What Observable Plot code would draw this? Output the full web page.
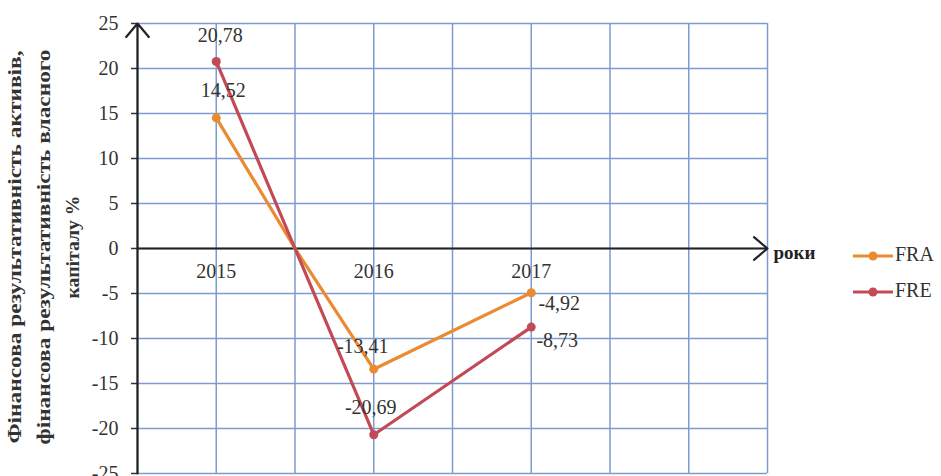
<!DOCTYPE html>
<html>
<head>
<meta charset="utf-8">
<script src="https://cdn.jsdelivr.net/npm/d3@7"></script>
<script src="https://cdn.jsdelivr.net/npm/@observablehq/plot@0.6"></script>
<style>
  html, body { margin: 0; padding: 0; background: #fff; }
  #chart { width: 941px; height: 476px; }
</style>
</head>
<body>
<div id="chart"></div>
<script>
// ---- data ----
const years = [2015, 2016, 2017];
const fraValues = [14.52, -13.41, -4.92];
const freValues = [20.78, -20.69, -8.73];
// both lines cross zero midway between 2015 and 2016
const crossingX = 2015.5;
const crossingY = 0;
const seriesNames = ["FRA", "FRE"];
const seriesColors = ["#EC8A2F", "#C24A55"];
const yTicks = [-25, -20, -15, -10, -5, 0, 5, 10, 15, 20, 25];
const xGrid = [2014.5, 2015, 2015.5, 2016, 2016.5, 2017, 2017.5, 2018, 2018.5];
const xLabel = "роки";
const yTitleLines = [
  "Фінансова результативність активів,",
  "фінансова результативність власного",
  "капіталу %"
];

// ---- build tables ----
const points = [];
const lineRows = [];
seriesNames.forEach((s, si) => {
  const vals = si === 0 ? fraValues : freValues;
  years.forEach((yr, i) => points.push({series: s, year: yr, value: vals[i], idx: i}));
  lineRows.push({series: s, year: years[0], value: vals[0]});
  lineRows.push({series: s, year: crossingX, value: crossingY});
  years.slice(1).forEach((yr, i) => lineRows.push({series: s, year: yr, value: vals[i + 1]}));
});

// label offsets (styling, not data)
const labelOffsets = {
  FRA: [[7, -27], [-11, -23], [28, 11]],
  FRE: [[4, -26], [-3, -27], [26, 14]]
};

const fmt = v => v.toFixed(2).replace(".", ",");
const serif = "'Liberation Serif', 'Times New Roman', serif";
const fs = 20;
const xMin = xGrid[0], xMax = xGrid[xGrid.length - 1];
const yMin = yTicks[0], yMax = yTicks[yTicks.length - 1];

const valueLabels = points.map(p => Plot.text([p], {
  x: "year", y: "value", text: d => fmt(d.value),
  dx: labelOffsets[p.series][p.idx][0],
  dy: labelOffsets[p.series][p.idx][1],
  fontSize: fs, fontFamily: serif, fill: "#333"
}));

const plot = Plot.plot({
  width: 941,
  height: 476,
  marginLeft: 137,
  marginRight: 174,
  marginTop: 23,
  marginBottom: 3,
  style: {fontFamily: serif, fontSize: fs + "px", background: "#fff", overflow: "visible"},
  x: {type: "linear", domain: [xMin, xMax], axis: null},
  y: {domain: [yMin, yMax], axis: null},
  color: {domain: seriesNames, range: seriesColors},
  marks: [
    Plot.gridY(yTicks, {stroke: "#7d9bcf", strokeOpacity: 1, strokeWidth: 1.5}),
    Plot.gridX(xGrid, {stroke: "#7d9bcf", strokeOpacity: 1, strokeWidth: 1.5}),
    Plot.axisY(yTicks, {
      anchor: "left", label: null, tickSize: 6, tickPadding: 13, stroke: "#333", strokeWidth: 1.5,
      fontSize: fs, fontFamily: serif, fill: "#333", tickFormat: d => String(d)
    }),
    Plot.arrow([0], {x1: xMin, y1: 0, x2: xMax, y2: 0, stroke: "#222", strokeWidth: 2.2, headAngle: 80, headLength: 12}),
    Plot.arrow([0], {x1: xMin, y1: yMin, x2: xMin, y2: yMax, stroke: "#222", strokeWidth: 2.2, headAngle: 80, headLength: 12}),
    Plot.text(years, {x: d => d, y: 0, dy: 23, text: d => String(d), fontSize: fs, fontFamily: serif, fill: "#333"}),
    Plot.text([xLabel], {x: xMax, y: 0, dx: 6, dy: 4, text: d => d, textAnchor: "start", fontSize: 19, fontWeight: "bold", fontFamily: serif, fill: "#222"}),
    Plot.line(lineRows, {x: "year", y: "value", z: "series", stroke: "series", strokeWidth: 3.2}),
    Plot.dot(points, {x: "year", y: "value", fill: "series", r: 4.5}),
    ...valueLabels
  ]
});

document.getElementById("chart").appendChild(plot);

const svg = d3.select(plot);

// Y axis title (rotated, three lines)
const titleX = [17, 46, 75];
const titleLen = [393, 395, 103];
yTitleLines.forEach((t, i) => {
  svg.append("text")
    .attr("transform", `translate(${titleX[i]},247) rotate(-90)`)
    .attr("text-anchor", "middle")
    .attr("dominant-baseline", "middle")
    .attr("textLength", titleLen[i])
    .attr("lengthAdjust", "spacingAndGlyphs")
    .style("font-family", serif)
    .style("font-size", "19px")
    .style("font-weight", "bold")
    .attr("fill", "#333")
    .text(t);
});

// Legend
const leg = svg.append("g");
seriesNames.forEach((s, i) => {
  const y = 256 + i * 36;
  leg.append("line").attr("x1", 853).attr("x2", 893).attr("y1", y).attr("y2", y)
    .attr("stroke", seriesColors[i]).attr("stroke-width", 3.2);
  leg.append("circle").attr("cx", 873).attr("cy", y).attr("r", 4.5).attr("fill", seriesColors[i]);
  leg.append("text").attr("x", 895).attr("y", y)
    .attr("text-anchor", "start")
    .attr("dominant-baseline", "middle")
    .style("font-family", serif).style("font-size", "20px").attr("fill", "#333").text(s);
});
</script>
</body>
</html>
